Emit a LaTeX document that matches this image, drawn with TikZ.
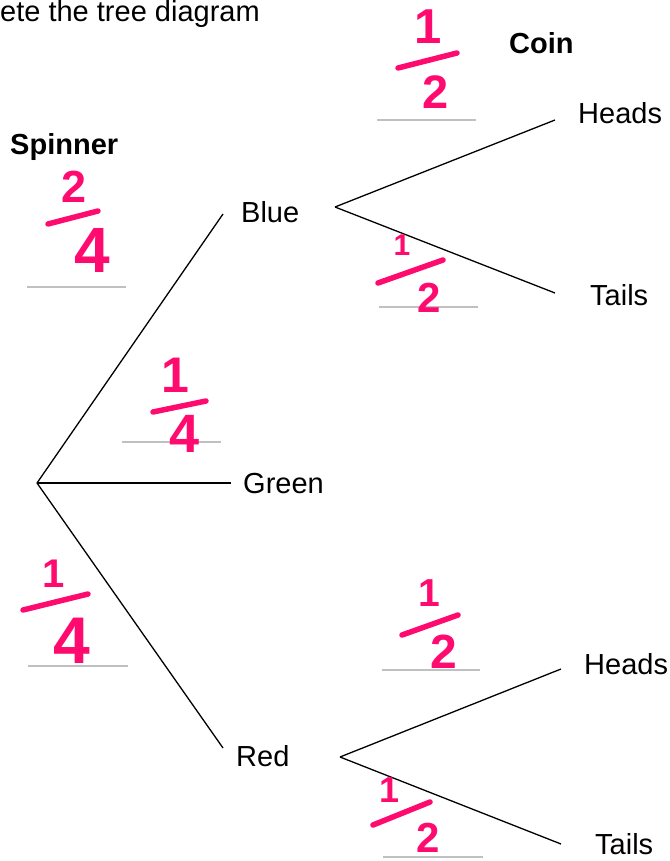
\documentclass[tikz,border=0pt]{standalone}
\usepackage{fontspec}
\setmainfont{Liberation Sans}
\definecolor{pen}{RGB}{255,10,110}
\definecolor{blank}{RGB}{192,192,192}
\begin{document}
\begin{tikzpicture}[x=1pt,y=-1pt,
  lbl/.style={anchor=base west,inner sep=0,font=\fontsize{29}{34}\selectfont},
  headlbl/.style={anchor=base west,inner sep=0,font=\fontsize{29}{34}\selectfont\bfseries},
  branch/.style={line width=1.3pt,black},
  blankline/.style={line width=2.6pt,blank},
  digit/.style={inner sep=0,text=pen,font=\fontsize{#1}{#1}\selectfont\bfseries},
  bar/.style={line width=5.5pt,pen,line cap=round}]
\useasboundingbox (0,0) rectangle (669,861);
% titles
\node[lbl] (title) at (0,22) {ete the tree diagram};
\node[headlbl] (spinner) at (10,155) {Spinner};
\node[headlbl] (coin) at (509,54) {Coin};
% spinner branch points
\coordinate (root) at (37,483);
\coordinate (bE) at (223,214);
\coordinate (gE) at (231,483);
\coordinate (rE) at (223,748);
\node[lbl] (blue) at (241,222.5) {Blue};
\node[lbl] (green) at (243,493) {Green};
\node[lbl] (red) at (236,766) {Red};
\draw[branch] (root) -- (bE);
\draw[branch] (root) -- (gE);
\draw[branch] (root) -- (rE);
% coin after blue
\coordinate (bF) at (335,207);
\coordinate (bH) at (555,120);
\coordinate (bT) at (555,293);
\node[lbl] (bheads) at (578,124) {Heads};
\node[lbl] (btails) at (590,305) {Tails};
\draw[branch] (bF) -- (bH);
\draw[branch] (bF) -- (bT);
% coin after red
\coordinate (rF) at (340,757);
\coordinate (rH) at (561,669);
\coordinate (rT) at (561,844);
\node[lbl] (rheads) at (584,674) {Heads};
\node[lbl] (rtails) at (595,854) {Tails};
\draw[branch] (rF) -- (rH);
\draw[branch] (rF) -- (rT);
% answer blanks
\draw[blankline] (27,287) -- (126,287);
\draw[blankline] (377,120) -- (476,120);
\draw[blankline] (379,307) -- (478,307);
\draw[blankline] (122,442) -- (221,442);
\draw[blankline] (28,666) -- (128,666);
\draw[blankline] (382,670) -- (480,670);
\draw[blankline] (383,857) -- (483,857);
% handwritten answers
% spinner: blue 2/4
\node[digit=45] (a1n) at (74,187) {2};
\draw[bar] (48,224) -- (98,211);
\node[digit=64] (a1d) at (92,250) {4};
% blue -> heads 1/2
\node[digit=49] (a2n) at (428,27) {1};
\draw[bar] (398,68) -- (457,53);
\node[digit=47] (a2d) at (436,92) {2};
% blue -> tails 1/2
\node[digit=30] (a3n) at (402,245) {1};
\draw[bar] (378,283) -- (443,260);
\node[digit=42] (a3d) at (429,298) {2};
% green 1/4
\node[digit=50] (a4n) at (175,375) {1};
\draw[bar] (153,412) -- (206,401);
\node[digit=54] (a4d) at (185,434) {4};
% red 1/4
\node[digit=40] (a5n) at (54,574) {1};
\draw[bar] (23,610) -- (88,594);
\node[digit=66] (a5d) at (72,641) {4};
% red -> heads 1/2
\node[digit=39] (a6n) at (429,593) {1};
\draw[bar] (402,635) -- (458,615);
\node[digit=48] (a6d) at (444,652) {2};
% red -> tails 1/2
\node[digit=36] (a7n) at (390,790) {1};
\draw[bar] (373,825) -- (430,802);
\node[digit=42] (a7d) at (428,838) {2};
\end{tikzpicture}
\end{document}
